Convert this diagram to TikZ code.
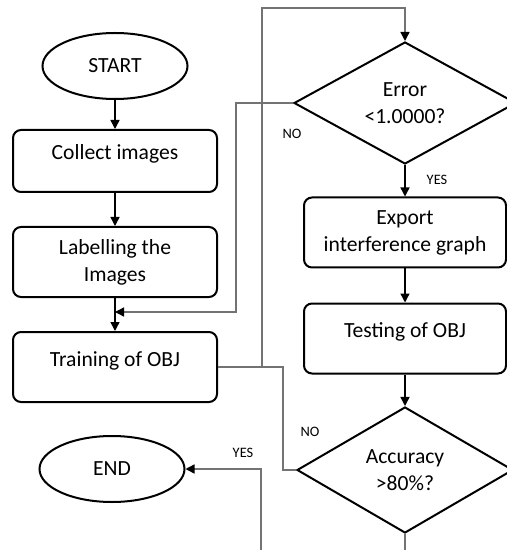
\documentclass[tikz,border=0pt]{standalone}
\usepackage{fontspec}
\setmainfont{Carlito}
\usetikzlibrary{shapes.geometric,arrows.meta,calc}

\begin{document}
\begin{tikzpicture}[x=0.5pt,y=-0.5pt,
    term/.style={draw,line width=1pt,ellipse,minimum width=72.5pt,minimum height=33pt,inner sep=0pt,font=\fontsize{10.8}{13.5}\selectfont},
    proc/.style={draw,line width=1pt,rounded corners=4pt,minimum width=102pt,minimum height=35pt,inner sep=0pt,align=center,font=\fontsize{10.8}{13.5}\selectfont},
    oneline/.style={text height=8pt,text depth=9pt},
    decide/.style={draw,line width=1pt,diamond,aspect=1.8,inner sep=0pt,align=center,font=\fontsize{10.8}{13.5}\selectfont},
    flow/.style={-{Triangle[length=4.5pt,width=4.5pt,color=black]},line width=0.7pt},
    back/.style={draw=black!55,line width=0.7pt},
    tag/.style={font=\fontsize{7.2}{8}\selectfont}]
    \useasboundingbox (0,0) rectangle (507,550);
    \clip (0,0) rectangle (507,550);

    \node[term] (start) at (115,66) {START};
    \node[proc,oneline,minimum height=31pt] (collect) at (115,161) {Collect images};
    \node[proc] (label) at (115,262) {Labelling the\\Images};
    \node[proc,oneline] (train) at (115,367) {Training of OBJ};
    \node[term] (end) at (112,469) {END};
    \node[decide,minimum width=111pt,minimum height=61pt] (error) at (405,103) {Error\\<1.0000?};
    \node[proc,minimum width=101pt] (export) at (405,232.5) {Export\\interference graph};
    \node[proc,oneline,minimum width=101pt] (test) at (405,338.5) {Testing of OBJ};
    \node[decide,minimum width=108pt,minimum height=63pt] (acc) at (405,470) {Accuracy\\>80\%?};

    \coordinate (merge) at (115,312);
    \coordinate (yesfoot) at (261,560);
    \coordinate (accfoot) at (405,560);

    \draw[flow] (start) -- (collect);
    \draw[flow] (collect) -- (label);
    \draw[flow] (label) -- (train);
    \draw[flow] (error) -- (export);
    \draw[flow] (export) -- (test);
    \draw[flow] (test) -- (acc);

    \draw[back,flow] (train.east) -- ++(44,0) |- ($(error.north)+(0,-33)$) -- (error.north);
    \draw[back,flow] (error.west) -- ++(-57,0) |- (merge);
    \draw[back] (acc.west) -- ++(-13,0) |- (train.east);
    \draw[back,flow] (yesfoot) |- (end.east);
    \draw[back] (acc.south) -- (accfoot);

    \node[tag] (no1) at (292,134) {NO};
    \node[tag] (yes1) at (437,180) {YES};
    \node[tag] (no2) at (310,432) {NO};
    \node[tag] (yes2) at (243,453) {YES};
\end{tikzpicture}
\end{document}
